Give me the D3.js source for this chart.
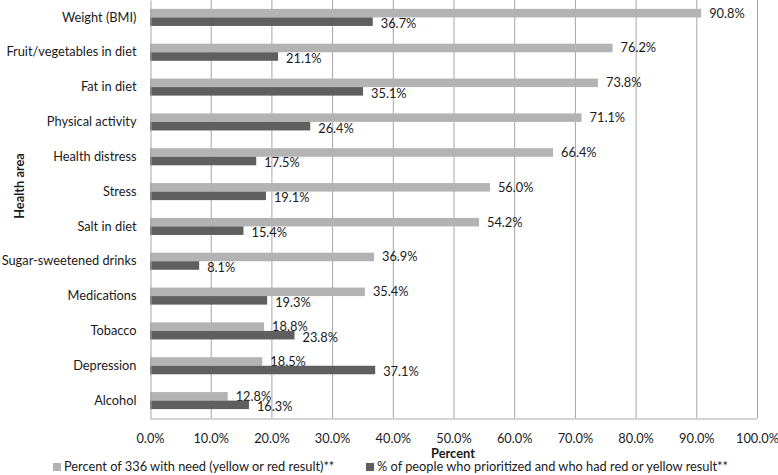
<!DOCTYPE html>
<html><head><meta charset="utf-8">
<script src="https://cdn.jsdelivr.net/npm/d3@7"></script>
<style>body{margin:0;background:#fff}svg{display:block}text{font-family:Lato,"Open Sans",sans-serif;fill:#1a1a1a}</style>
</head><body><svg id="c" width="778" height="475"></svg>
<script>
const categories = ["Weight (BMI)","Fruit/vegetables in diet","Fat in diet","Physical activity","Health distress","Stress","Salt in diet","Sugar-sweetened drinks","Medications","Tobacco","Depression","Alcohol"];
const needValues = [90.8,76.2,73.8,71.1,66.4,56.0,54.2,36.9,35.4,18.8,18.5,12.8];
const prioritizedValues = [36.7,21.1,35.1,26.4,17.5,19.1,15.4,8.1,19.3,23.8,37.1,16.3];
const xTicks = [0,10,20,30,40,50,60,70,80,90,100];
const seriesNames = ["Percent of 336 with need (yellow or red result)**","% of people who prioritized and who had red or yellow result**"];
const colors = ["#b3b3b3","#5f5f5f"];

const FS = 12.8;
const svg = d3.select("#c");
const m = {left:150, right:21, top:0, bottom:57};
const W = 778, H = 475;
const x = d3.scaleLinear().domain([0,100]).range([m.left, W-m.right]);
const y = d3.scaleBand().domain(categories).range([m.top, H-m.bottom]).paddingInner(0.51).paddingOuter(0.255);
const sub = d3.scaleBand().domain([0,1]).range([0, y.bandwidth()]);

// grid
svg.append("g").selectAll("line").data(xTicks.slice(1)).join("line")
  .attr("x1",d=>x(d)+0.5).attr("x2",d=>x(d)+0.5).attr("y1",m.top).attr("y2",H-m.bottom)
  .attr("stroke","#a6a6a6").attr("stroke-width",1);

const data = categories.map((c,i)=>({c, v:[needValues[i], prioritizedValues[i]]}));
const g = svg.append("g");
[0,1].forEach(s=>{
  g.selectAll("rect.s"+s).data(data).join("rect").attr("class","s"+s)
    .attr("x",x(0)).attr("y",d=>y(d.c)+sub(s)).attr("width",d=>x(d.v[s])-x(0)).attr("height",sub.bandwidth())
    .attr("fill",colors[s]);
  g.selectAll("text.l"+s).data(data).join("text").attr("class","l"+s)
    .attr("x",d=>x(d.v[s])+8).attr("y",d=>y(d.c)+sub(s)+sub.bandwidth()/2+(s?2:0))
    .attr("dy","0.35em").attr("font-size",FS).text(d=>d.v[s].toFixed(1)+"%");
});

// axes
const xa = d3.axisBottom(x).tickValues(xTicks).tickSize(0).tickFormat(d=>d.toFixed(1)+"%");
const xg = svg.append("g").attr("transform",`translate(0,${H-m.bottom+0.5})`).call(xa);
xg.select(".domain").attr("stroke","#a6a6a6");
xg.selectAll("text").attr("font-size",FS).attr("dy","1.7em").style("font-family","Lato,'Open Sans',sans-serif").attr("fill","#1a1a1a");
const ya = d3.axisLeft(y).tickSize(0).tickPadding(14);
const yg = svg.append("g").attr("transform",`translate(${m.left+0.5},0)`).call(ya);
yg.select(".domain").attr("stroke","#a6a6a6");
yg.selectAll("text").attr("font-size",FS).style("font-family","Lato,'Open Sans',sans-serif").attr("fill","#1a1a1a");

svg.append("text").attr("x",453).attr("y",458).attr("text-anchor","middle").attr("font-weight","bold").attr("font-size",FS).text("Percent");
svg.append("text").attr("transform","translate(24,186) rotate(-90)").attr("text-anchor","middle").attr("font-weight","bold").attr("font-size",FS).text("Health area");

// legend
const lg = svg.append("g").attr("transform","translate(0,467)");
const lx = [53,366];
seriesNames.forEach((n,i)=>{
  lg.append("rect").attr("x",lx[i]).attr("y",-4).attr("width",8).attr("height",8).attr("fill",colors[i]);
  lg.append("text").attr("x",lx[i]+11).attr("y",0).attr("dy","0.35em").attr("font-size",FS).text(n);
});
</script></body></html>
